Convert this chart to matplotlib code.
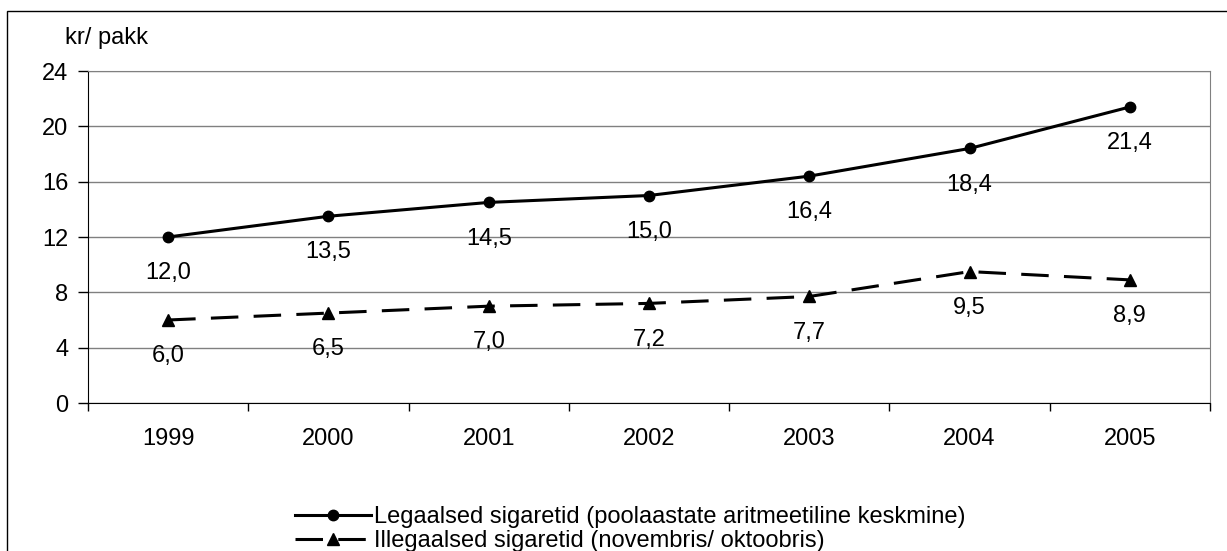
import matplotlib
matplotlib.use("Agg")
import matplotlib.pyplot as plt
from matplotlib.patches import Rectangle
import numpy as np

plt.rcParams['font.family'] = ['Liberation Sans', 'DejaVu Sans']

years = ['1999', '2000', '2001', '2002', '2003', '2004', '2005']
legal = [12.0, 13.5, 14.5, 15.0, 16.4, 18.4, 21.4]
illegal = [6.0, 6.5, 7.0, 7.2, 7.7, 9.5, 8.9]

legal_name = 'Legaalsed sigaretid (poolaastate aritmeetiline keskmine)'
illegal_name = 'Illegaalsed sigaretid (novembris/ oktoobris)'

W, H = 1227, 551
fig = plt.figure(figsize=(W / 100, H / 100), dpi=100)
ax = fig.add_axes([88 / W, 1 - 403 / H, (1210 - 88) / W, (403 - 71) / H])

x = np.arange(len(years))
fs = 17

ax.plot(x, legal, color='black', lw=2.2, marker='o', markersize=7.5,
        label=legal_name, zorder=3)
ax.plot(x, illegal, color='black', lw=2.2, marker='^', markersize=8.5,
        dashes=(9, 5), label=illegal_name, zorder=3)

# data labels below points, comma as decimal separator
for series in (legal, illegal):
    for xi, v in zip(x, series):
        ax.annotate(f'{v:.1f}'.replace('.', ','), (xi, v), xytext=(0, -26),
                    textcoords='offset points', ha='center', va='center',
                    fontsize=fs)

ax.set_xlim(-0.5, len(years) - 0.5)
ax.set_ylim(0, 24)
ax.set_yticks(np.arange(0, 25, 4))
ax.set_xticks(x)
ax.set_xticklabels(years)
ax.set_xticks(np.arange(-0.5, len(years)), minor=True)
ax.tick_params(axis='x', which='major', length=0, pad=18, labelsize=fs)
ax.tick_params(axis='x', which='minor', length=6, width=1, color='black')
ax.tick_params(axis='y', length=7, width=1, pad=7, labelsize=fs)

ax.grid(axis='y', color='#808080', lw=1)
ax.set_axisbelow(True)
for s in ('top', 'right'):
    ax.spines[s].set_color('#808080')
for s in ('left', 'bottom'):
    ax.spines[s].set_color('black')

fig.text(65 / W, 1 - 38 / H, 'kr/ pakk', fontsize=fs, ha='left', va='center')

fig.legend(loc='upper left', bbox_to_anchor=(295 / W, 1 - 506 / H),
           frameon=False, fontsize=fs, handlelength=3.2, handletextpad=0.15,
           borderpad=0, borderaxespad=0, labelspacing=0.1, numpoints=1)

fig.patches.append(Rectangle((7 / W, -0.05), 1.1, 1 - 11 / H + 0.05,
                             transform=fig.transFigure, fill=False,
                             edgecolor='black', lw=1))

fig.savefig('out.png', dpi=100)
